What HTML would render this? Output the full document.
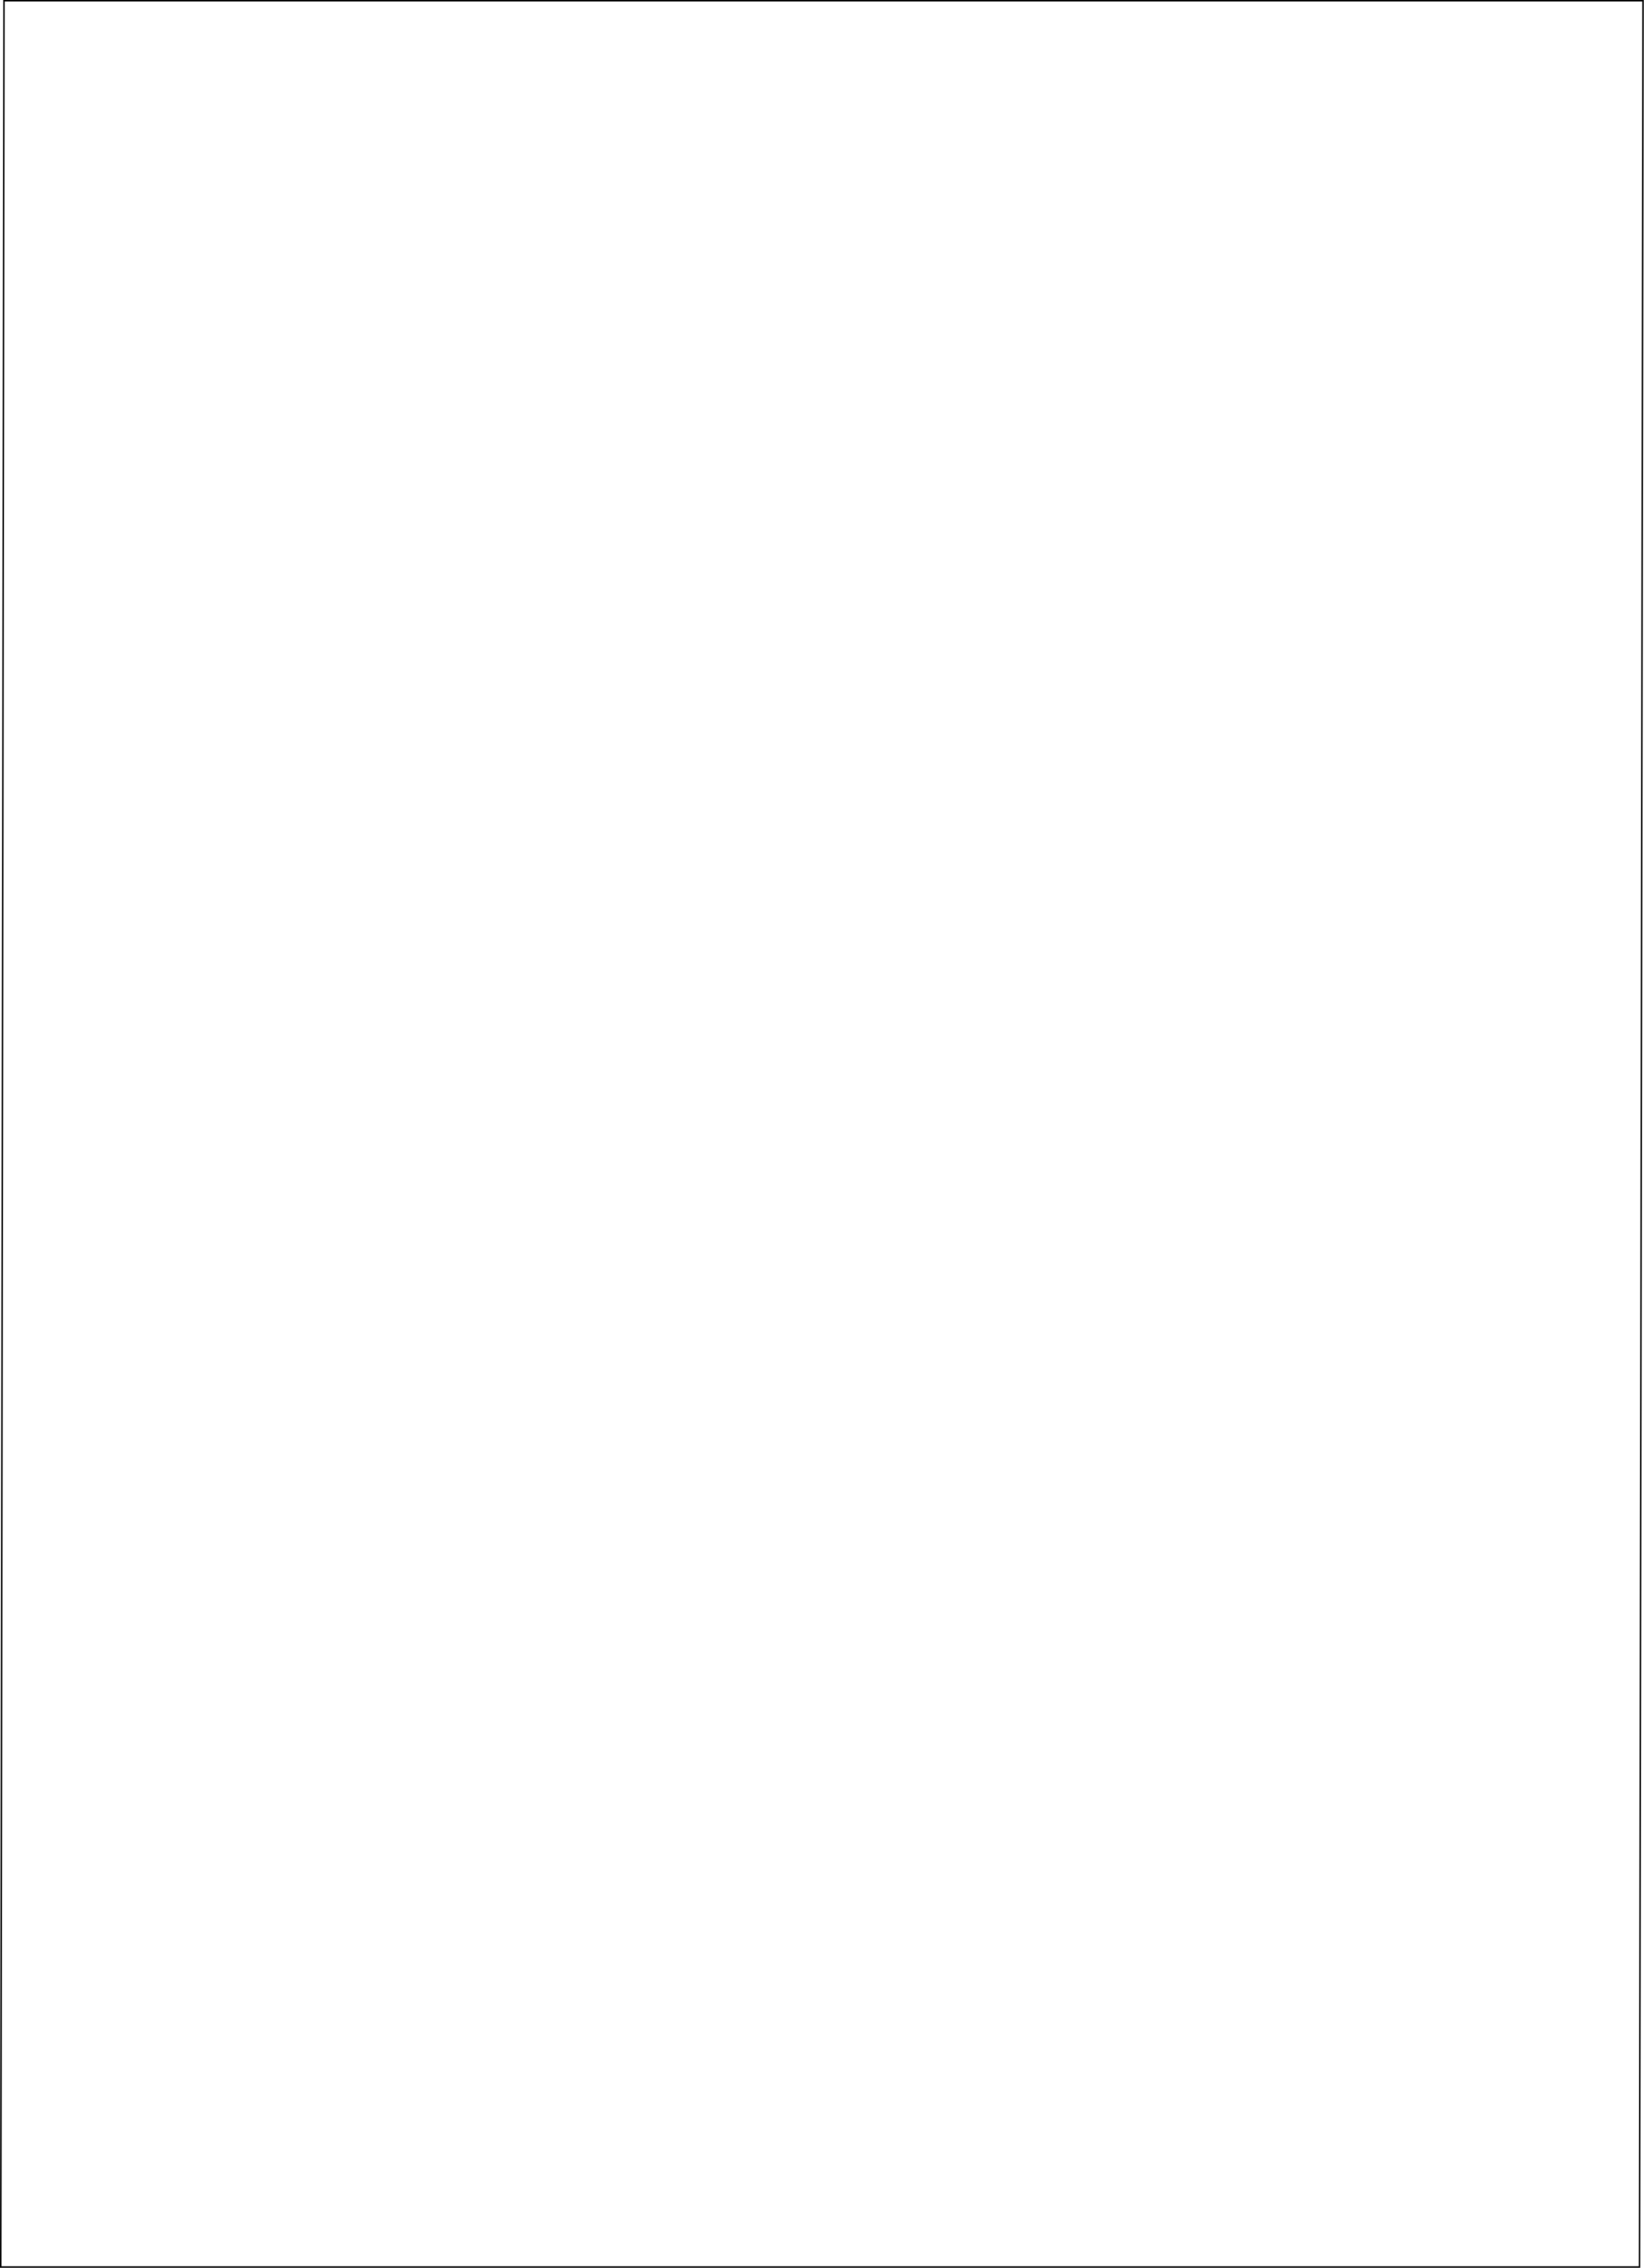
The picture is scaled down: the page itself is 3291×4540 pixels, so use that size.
<!DOCTYPE html>
<html>
<head>
<meta charset="utf-8">
<style>
html,body{margin:0;padding:0;background:#fff;width:3291px;height:4540px;overflow:hidden;}
svg{display:block;}
</style>
</head>
<body>
<svg width="3291" height="4540" viewBox="0 0 3291 4540" xmlns="http://www.w3.org/2000/svg">
<rect width="3291" height="4540" fill="#fff"/>
<polygon points="8,1.5 3289,1.5 3282,4538 1.5,4538" fill="none" stroke="#000" stroke-width="3"/>
</svg>
</body>
</html>
